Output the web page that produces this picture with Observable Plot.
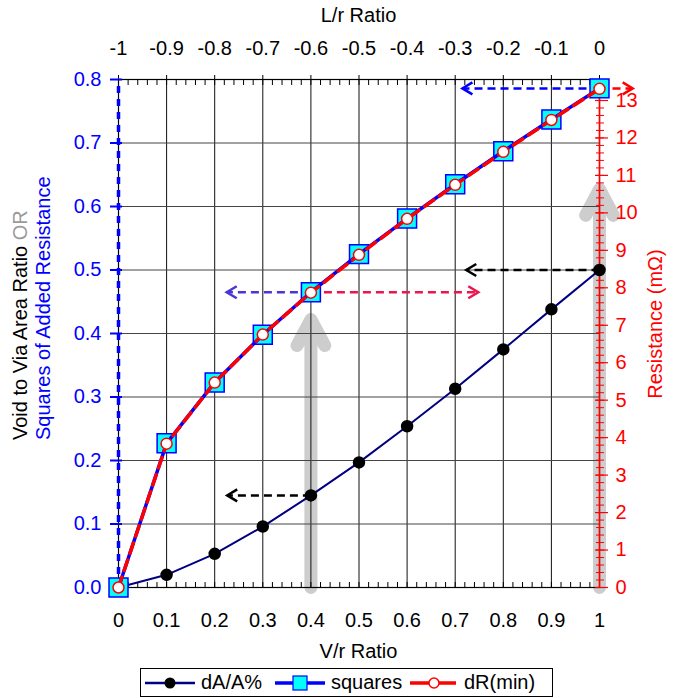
<!DOCTYPE html>
<html>
<head>
<meta charset="utf-8">
<script src="https://cdn.jsdelivr.net/npm/d3@7"></script>
<script src="https://cdn.jsdelivr.net/npm/@observablehq/plot@0.6"></script>
<style>
  html,body{margin:0;padding:0;background:#fff;}
  body{width:678px;height:698px;position:relative;overflow:hidden;font-family:"Liberation Sans",Arial,sans-serif;}
  #chart{position:absolute;left:0;top:0;}
  #legend{position:absolute;left:140px;top:668px;width:411px;height:27px;border:1px solid #000;background:#fff;font-size:20px;color:#000;}
  .item{position:absolute;top:0;height:27px;display:flex;align-items:center;}
  .item span{margin-left:6px;}
</style>
</head>
<body>
<div id="chart"></div>
<div id="legend"></div>
<script>
// ---- data ----
const vr = [0, 0.1, 0.2, 0.3, 0.4, 0.5, 0.6, 0.7, 0.8, 0.9, 1];
const dAA = [0, 0.020, 0.053, 0.096, 0.145, 0.197, 0.254, 0.313, 0.375, 0.438, 0.500];
const squares = [0, 0.227, 0.323, 0.398, 0.465, 0.525, 0.581, 0.635, 0.687, 0.737, 0.786];
const dRmin = [0, 3.84, 5.47, 6.75, 7.87, 8.88, 9.84, 10.75, 11.63, 12.48, 13.31];
const seriesNames = ["dA/A%", "squares", "dR(min)"];

const xTicks = [0, 0.1, 0.2, 0.3, 0.4, 0.5, 0.6, 0.7, 0.8, 0.9, 1];
const bottomLabels = ["0", "0.1", "0.2", "0.3", "0.4", "0.5", "0.6", "0.7", "0.8", "0.9", "1"];
const topLabels = ["-1", "-0.9", "-0.8", "-0.7", "-0.6", "-0.5", "-0.4", "-0.3", "-0.2", "-0.1", "0"];
const leftTicks = [0, 0.1, 0.2, 0.3, 0.4, 0.5, 0.6, 0.7, 0.8];
const leftLabels = ["0.0", "0.1", "0.2", "0.3", "0.4", "0.5", "0.6", "0.7", "0.8"];
const rightTicks = [0, 1, 2, 3, 4, 5, 6, 7, 8, 9, 10, 11, 12, 13];
const rightLabels = ["0", "1", "2", "3", "4", "5", "6", "7", "8", "9", "10", "11", "12", "13"];
const xMinorStep = 0.02;
const rMinorStep = 0.2;
const yMax = 0.8;
const rightMax = 13.56;

// annotation arrows (data units)
const greyArrows = [
  {x: 0.4, y1: 0, y2: 0.422},
  {x: 1.0, y1: 0, y2: 0.627}
];
const dashArrows = [
  {x1: 1.0, x2: 0.715, y: 0.786, c: "#0000ff", dir: "left"},
  {x1: 1.0, x2: 1.069, y: 0.786, c: "#ff0000", dir: "right"},
  {x1: 1.0, x2: 0.723, y: 0.500, c: "#000000", dir: "left"},
  {x1: 0.4, x2: 0.225, y: 0.465, c: "#4a35d6", dir: "left"},
  {x1: 0.4, x2: 0.748, y: 0.465, c: "#e8174d", dir: "right"},
  {x1: 0.4, x2: 0.226, y: 0.145, c: "#000000", dir: "left"}
];

// ---- derived tables ----
const toLeft = r => r * yMax / rightMax;
const rows = vr.map((v, i) => ({v, a: dAA[i], s: squares[i], r: dRmin[i]}));
const xMinor = d3.range(0, 1 + 1e-9, xMinorStep);
const rMinor = d3.range(0, rightMax, rMinorStep).map(toLeft);
const rMajor = rightTicks.map(toLeft);

const chevron = {
  draw(ctx) { ctx.moveTo(10, -6); ctx.lineTo(0, 0); ctx.lineTo(10, 6); }
};

const W = 678, H = 665;
const chart = Plot.plot({
  width: W, height: H,
  marginLeft: 118, marginRight: 79, marginTop: 79, marginBottom: 78,
  style: {fontFamily: '"Liberation Sans", Arial, sans-serif', fontSize: "20px", background: "white", overflow: "visible"},
  x: {domain: [0, 1]},
  y: {domain: [0, yMax]},
  color: {type: "identity"},
  marks: [
    // grey annotation arrows (behind grid)
    Plot.arrow(greyArrows, {x1: "x", x2: "x", y1: "y1", y2: "y2", stroke: "#c4c4c4", strokeOpacity: 0.85,
      strokeWidth: 13, headLength: 3.4, headAngle: 56, strokeLinecap: "round", strokeLinejoin: "round"}),
    // grid
    Plot.gridX({ticks: xTicks, stroke: "#111", strokeOpacity: 1, strokeWidth: 1}),
    Plot.gridY({ticks: leftTicks, stroke: "#444", strokeOpacity: 1, strokeWidth: 1}),
    Plot.frame({stroke: "#000", strokeWidth: 1.2}),
    // bottom axis
    Plot.axisX({anchor: "bottom", ticks: xTicks, tickSize: 0, tickPadding: 25, label: null,
      tickFormat: d => bottomLabels[Math.round(d * 10)], fill: "#000"}),
    Plot.axisX({anchor: "bottom", ticks: xMinor, tickSize: -5, tickFormat: () => "", label: null, stroke: "#000"}),
    // top axis
    Plot.axisX({anchor: "top", ticks: xTicks, tickSize: 5, tickPadding: 20, label: null,
      tickFormat: d => topLabels[Math.round(d * 10)], fill: "#000", stroke: "#000"}),
    Plot.axisX({anchor: "top", ticks: xMinor, tickSize: -5, tickFormat: () => "", label: null, stroke: "#000"}),
    // left axis (blue)
    Plot.ruleX([0], {y1: 0, y2: yMax, stroke: "#0000ff", strokeWidth: 3.5, strokeDasharray: "7,6"}),
    Plot.axisY({anchor: "left", ticks: leftTicks, tickSize: 8, tickPadding: 9, label: null, strokeWidth: 2,
      tickFormat: d => leftLabels[Math.round(d * 10)], fill: "#0000ff", stroke: "#0000ff"}),
    Plot.axisY({anchor: "left", ticks: leftTicks, tickSize: -4, tickFormat: () => "", label: null, strokeWidth: 2, stroke: "#0000ff"}),
    // right axis (red)
    Plot.ruleX([1], {y1: 0, y2: toLeft(dRmin[dRmin.length - 1]), stroke: "#ff0000", strokeWidth: 1.5}),
    Plot.axisY({anchor: "right", ticks: rMajor, tickSize: 8, tickPadding: 8, label: null, strokeWidth: 1.2,
      tickFormat: d => rightLabels[Math.round(d * rightMax / yMax)], fill: "#ff0000", stroke: "#ff0000"}),
    Plot.axisY({anchor: "right", ticks: rMajor, tickSize: -5, tickFormat: () => "", label: null, strokeWidth: 1.2, stroke: "#ff0000"}),
    Plot.axisY({anchor: "right", ticks: rMinor, tickSize: 4, tickFormat: () => "", label: null, strokeWidth: 1, stroke: "#ff0000"}),
    Plot.axisY({anchor: "right", ticks: rMinor, tickSize: -4, tickFormat: () => "", label: null, strokeWidth: 1, stroke: "#ff0000"}),
    // dashed annotation arrows
    Plot.link(dashArrows, {x1: "x1", x2: "x2", y1: "y", y2: "y", stroke: "c", strokeWidth: 2.5, strokeDasharray: "8,5"}),
    Plot.dot(dashArrows, {x: "x2", y: "y", symbol: chevron, stroke: "c", fill: "none", strokeWidth: 2.5,
      rotate: d => d.dir === "right" ? 180 : 0}),
    // dA/A%
    Plot.line(rows, {x: "v", y: "a", stroke: "#000080", strokeWidth: 2}),
    Plot.dot(rows, {x: "v", y: "a", r: 5.5, fill: "#000", stroke: "#000"}),
    // squares
    Plot.dot(rows, {x: "v", y: "s", symbol: "square", r: 10.7, fill: "#00ffff", stroke: "#0000ff", strokeWidth: 1.5}),
    Plot.line(rows, {x: "v", y: "s", stroke: "#0000ff", strokeWidth: 3.5}),
    // dR(min) on the right scale
    Plot.line(rows, {x: "v", y: d => toLeft(d.r), stroke: "#ff0000", strokeWidth: 3.5, strokeDasharray: "11,7"}),
    Plot.dot(rows, {x: "v", y: d => toLeft(d.r), r: 5.5, fill: "#fff", stroke: "#ff0000", strokeWidth: 1.5})
  ]
});
document.getElementById("chart").appendChild(chart);

// axis titles
const sx = chart.scale("x");
const svg = d3.select(chart);
const cx = sx.apply(0.5);
svg.append("text").attr("x", cx).attr("y", 15).attr("dy", "0.35em").attr("text-anchor", "middle")
  .attr("fill", "#000").attr("font-size", 20).text("L/r Ratio");
svg.append("text").attr("x", cx).attr("y", 651).attr("dy", "0.35em").attr("text-anchor", "middle")
  .attr("fill", "#000").attr("font-size", 20).text("V/r Ratio");
const l1 = svg.append("text").attr("transform", "translate(20,440) rotate(-90)").attr("dy", "0.35em")
  .attr("text-anchor", "start").attr("font-size", 20);
l1.append("tspan").attr("fill", "#000").text("Void to Via Area Ratio ");
l1.append("tspan").attr("fill", "#9a9a9a").text("OR");
svg.append("text").attr("transform", "translate(43,440) rotate(-90)").attr("dy", "0.35em")
  .attr("text-anchor", "start").attr("font-size", 20).attr("fill", "#0000ff").text("Squares of Added Resistance");
svg.append("text").attr("transform", "translate(655,324) rotate(-90)").attr("dy", "0.35em")
  .attr("text-anchor", "middle").attr("font-size", 20).attr("fill", "#ff0000").text("Resistance (mΩ)");

// legend
const legendLefts = [4, 134, 269];
const swatches = [
  `<svg width="50" height="20"><line x1="0" y1="10" x2="50" y2="10" stroke="#000080" stroke-width="2.5"/><circle cx="25" cy="10" r="5.5" fill="#000"/></svg>`,
  `<svg width="50" height="20"><line x1="0" y1="10" x2="50" y2="10" stroke="#0000ff" stroke-width="3.5"/><rect x="18" y="3" width="14" height="14" fill="#00ffff" stroke="#0000ff" stroke-width="1.2"/></svg>`,
  `<svg width="48" height="20"><line x1="0" y1="10" x2="48" y2="10" stroke="#ff0000" stroke-width="3.5" stroke-dasharray="20,6"/><circle cx="24" cy="10" r="5" fill="#fff" stroke="#ff0000" stroke-width="1.5"/></svg>`
];
const legend = document.getElementById("legend");
seriesNames.forEach((name, i) => {
  const it = document.createElement("div");
  it.className = "item";
  it.style.left = legendLefts[i] + "px";
  it.innerHTML = swatches[i] + `<span>${name}</span>`;
  legend.appendChild(it);
});
</script>
</body>
</html>
